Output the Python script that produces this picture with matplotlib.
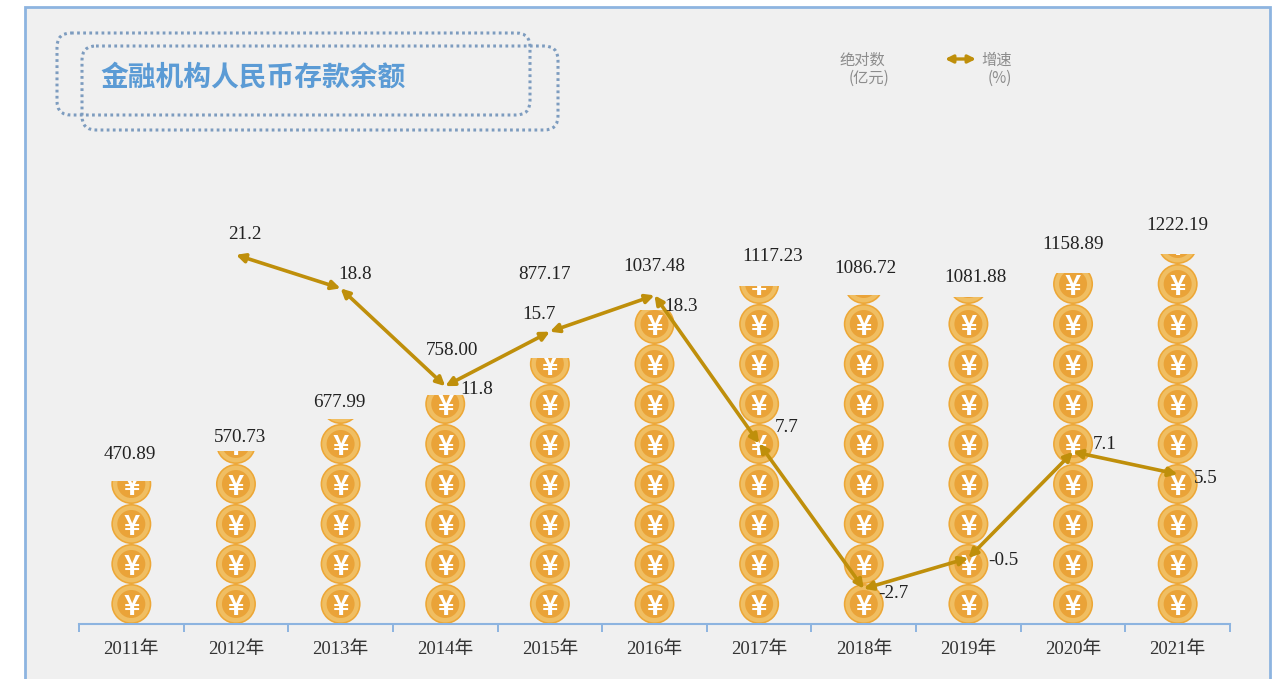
"""金融机构人民币存款余额：金币堆叠柱 + 增速折线。"""
import matplotlib as mpl
import matplotlib.pyplot as plt
from matplotlib.patches import Ellipse, FancyBboxPatch, Rectangle

mpl.rcParams["font.family"] = ["Liberation Serif", "Noto Sans CJK SC"]

YEARS = ["2011年", "2012年", "2013年", "2014年", "2015年", "2016年",
         "2017年", "2018年", "2019年", "2020年", "2021年"]
AMOUNT = [470.89, 570.73, 677.99, 758.00, 877.17, 1037.48,
          1117.23, 1086.72, 1081.88, 1158.89, 1222.19]
GROWTH = [None, 21.2, 18.8, 11.8, 15.7, 18.3, 7.7, -2.7, -0.5, 7.1, 5.5]

W, H = 1280, 679
PX_LEFT, PX_RIGHT, PX_BASE, PX_TOP = 79, 1230, 624, 200
PX_PER_UNIT = 0.3027          # 柱：每亿元对应的像素
PX_PER_PCT = 13.97            # 线：每个百分点对应的像素
PX_ZERO = 551                 # 增速 0 的像素高度
COIN_PX = 40

# 标签相对柱顶 / 折点的偏移（像素）
AMOUNT_OFFSET = [(-2, 27), (4, 14), (-1, 16), (7, 44), (-5, 84), (0, 43),
                 (13, 29), (2, 27), (7, 19), (0, 29), (0, 29)]
GROWTH_OFFSET = [None, (9, 20), (15, 14), (31, -3), (-11, 17), (27, -11),
                 (27, 16), (30, -5), (35, -3), (32, 7), (28, -4)]

GOLD = "#BF8F0B"
BLUE = "#8DB4E0"

fig = plt.figure(figsize=(W / 100, H / 100), dpi=100, facecolor="white")

# 背景面板
bg = fig.add_axes([0, 0, 1, 1])
bg.set_xlim(0, W)
bg.set_ylim(H, 0)
bg.axis("off")
bg.add_patch(Rectangle((25, 7), 1245, 680, fc="#F0F0F0", ec=BLUE, lw=2))

# 标题的两个点线框
for (x0, y0, x1, y1) in [(57, 33, 530, 115), (82, 46, 558, 130)]:
    bg.add_patch(FancyBboxPatch((x0 + 10, y0 + 10), x1 - x0 - 20, y1 - y0 - 20,
                                boxstyle="round,pad=10,rounding_size=14",
                                fc="none", ec="#7D9CBF", lw=2.2,
                                ls=(0, (0.9, 1.1))))
bg.text(100, 78, "金融机构人民币存款余额", color="#5B9BD5", fontsize=20,
        fontweight="bold", ha="left", va="center", family="Noto Sans CJK SC")

# 图例
LEG = "#8C8C8C"
for x, y, s in [(862, 60, "绝对数"), (869, 78, "(亿元)"),
                (997, 60, "增速"), (1000, 78, "(%)")]:
    bg.text(x, y, s, color=LEG, fontsize=11, ha="center", va="center",
            family="Noto Sans CJK SC")
bg.annotate("", xy=(976, 59), xytext=(945, 59),
            arrowprops=dict(arrowstyle="<|-|>", color=GOLD, lw=2.4,
                            mutation_scale=11, shrinkA=0, shrinkB=0))

# 柱：金币
ax = fig.add_axes([PX_LEFT / W, 1 - PX_BASE / H,
                   (PX_RIGHT - PX_LEFT) / W, (PX_BASE - PX_TOP) / H])
ax.patch.set_alpha(0)
ax.set_xlim(-0.5, len(YEARS) - 0.5)
ax.set_ylim(0, (PX_BASE - PX_TOP) / PX_PER_UNIT)
unit_x = (PX_RIGHT - PX_LEFT) / len(YEARS)
coin_w = COIN_PX / unit_x
coin_h = COIN_PX / PX_PER_UNIT

for i, val in enumerate(AMOUNT):
    clip = Rectangle((i - 0.5, 0), 1, val, transform=ax.transData)
    n = 0
    while n * coin_h < val:
        cy = (n + 0.5) * coin_h
        for scale, col in [(1.0, "#EDA736"), (0.92, "#F0BE62"), (0.7, "#EAA338")]:
            coin = ax.add_patch(Ellipse((i, cy), coin_w * scale, coin_h * scale,
                                        fc=col, ec="none", zorder=2))
            coin.set_clip_path(clip)
        t = ax.text(i, cy, "¥", color="white", fontsize=20, fontweight="bold",
                    ha="center", va="center_baseline", family="Noto Sans CJK SC",
                    zorder=3, clip_on=True)
        t.set_clip_path(clip)
        n += 1

ax.set_xticks([x - 0.5 for x in range(len(YEARS) + 1)])
ax.set_xticklabels([])
ax.set_xticks(range(len(YEARS)), minor=True)
ax.set_xticklabels(YEARS, minor=True, fontsize=13.5, color="#333333")
ax.tick_params(axis="x", which="major", direction="out", length=6, width=1.4,
               color=BLUE)
ax.tick_params(axis="x", which="minor", length=0, pad=12)
ax.set_yticks([])
for s in ["top", "left", "right"]:
    ax.spines[s].set_visible(False)
ax.spines["bottom"].set_color(BLUE)
ax.spines["bottom"].set_linewidth(1.5)

for i, (val, (dx, dy)) in enumerate(zip(AMOUNT, AMOUNT_OFFSET)):
    ax.annotate(f"{val:.2f}", (i, val), xytext=(dx * 0.72, dy * 0.72),
                textcoords="offset points", ha="center", va="center",
                fontsize=13.8, color="#222222", annotation_clip=False, zorder=6)

# 线：增速（次坐标）
ax2 = ax.twinx()
ax2.patch.set_alpha(0)
ax2.set_ylim((PX_ZERO - PX_BASE) / PX_PER_PCT, (PX_ZERO - PX_TOP) / PX_PER_PCT)
ax2.set_yticks([])
for s in ax2.spines.values():
    s.set_visible(False)

pts = [(i, g) for i, g in enumerate(GROWTH) if g is not None]
for a, b in zip(pts[:-1], pts[1:]):
    ax2.annotate("", xy=b, xytext=a, annotation_clip=False,
                 arrowprops=dict(arrowstyle="<|-|>", color=GOLD, lw=2.6,
                                 mutation_scale=13, shrinkA=0, shrinkB=0),
                 zorder=5)
for i, g in pts:
    dx, dy = GROWTH_OFFSET[i]
    ax2.annotate(f"{g:.1f}", (i, g), xytext=(dx * 0.72, dy * 0.72),
                 textcoords="offset points", ha="center", va="center",
                 fontsize=13.8, color="#222222", annotation_clip=False, zorder=6)

fig.savefig("out.png", dpi=100)
